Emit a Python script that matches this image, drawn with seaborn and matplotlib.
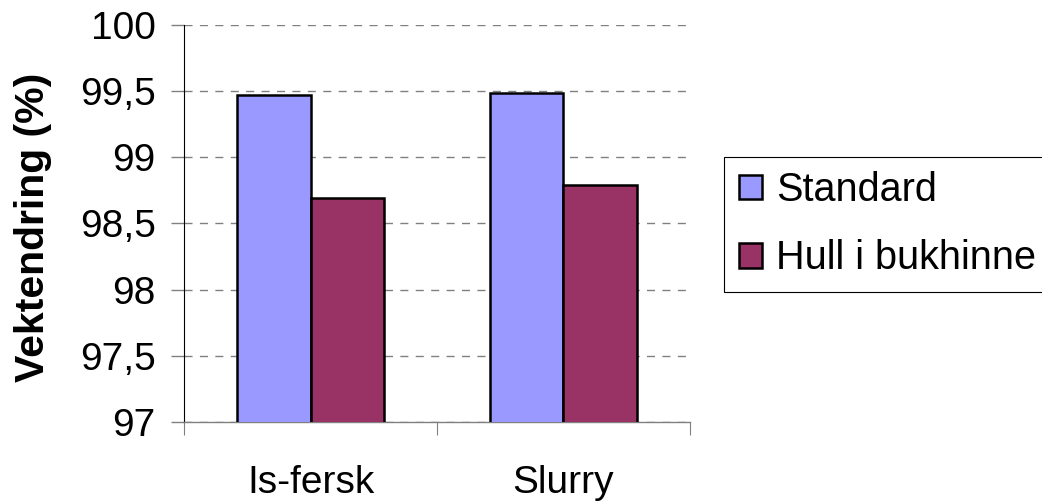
import matplotlib
matplotlib.use("Agg")
import matplotlib.pyplot as plt
import seaborn as sns
import pandas as pd
from matplotlib.patches import Patch

# Data
categories = ["Is-fersk", "Slurry"]
series_names = ["Standard", "Hull i bukhinne"]
standard = [99.47, 99.49]
hull = [98.69, 98.79]
y_ticks = [97, 97.5, 98, 98.5, 99, 99.5, 100]
y_tick_labels = ["97", "97,5", "98", "98,5", "99", "99,5", "100"]
palette = ["#9999FF", "#993366"]

df = pd.DataFrame({
    "kategori": categories * 2,
    "serie": [series_names[0]] * len(categories) + [series_names[1]] * len(categories),
    "verdi": standard + hull,
})

sns.set_theme(style="white")
plt.rcParams["font.family"] = ["Liberation Sans", "DejaVu Sans"]
plt.rcParams["lines.scale_dashes"] = False
plt.rcParams["text.color"] = "black"

fig = plt.figure(figsize=(10.42, 5.01), dpi=100)
ax = fig.add_axes([184.3 / 1042, 1 - 421.7 / 501, (689.8 - 184.3) / 1042, (421.7 - 25.3) / 501])

sns.barplot(data=df, x="kategori", y="verdi", hue="serie", order=categories,
            hue_order=series_names, palette=palette, width=0.58, saturation=1,
            edgecolor="black", linewidth=1.8, errorbar=None, legend=False,
            ax=ax, zorder=3)

# Axes
ax.set_xlim(-0.5, 1.5)
ax.set_ylim(97, 100)
ax.set_yticks(y_ticks)
ax.set_yticklabels(y_tick_labels)
ax.yaxis.grid(True, color="#808080", linestyle=(0, (5.8, 5.3)), linewidth=1.0)
ax.xaxis.grid(False)
ax.set_axisbelow(True)

for s in ("top", "right"):
    ax.spines[s].set_visible(False)
ax.spines["left"].set_color("black")
ax.spines["left"].set_linewidth(0.8)
ax.spines["bottom"].set_color("#808080")
ax.spines["bottom"].set_linewidth(1.0)

ax.tick_params(axis="y", which="major", length=9.1, width=1.0, color="#808080",
               pad=11.5, labelsize=28, labelcolor="black", left=True)
ax.tick_params(axis="x", which="major", length=0, pad=31, labelsize=28,
               labelcolor="black")
ax.set_xticks([-0.5, 0.5, 1.5], minor=True)
ax.tick_params(axis="x", which="minor", length=9, width=0.8, color="#808080",
               bottom=True)

ax.set_xlabel("")
ax.set_ylabel("Vektendring (%)", fontsize=29.5, fontweight="bold", color="black")
ax.yaxis.set_label_coords(-0.2617, 0.491)

# Legend
handles = [Patch(facecolor=c, edgecolor="black", linewidth=1.8) for c in palette]
leg = fig.legend(handles, series_names, loc="upper left",
                 bbox_to_anchor=(724.3 / 1042, 1 - 156.7 / 501),
                 fontsize=28.5, frameon=True, fancybox=False, edgecolor="black",
                 handlelength=0.58, handleheight=0.58, handletextpad=0.36,
                 labelspacing=0.77, borderpad=0.36, borderaxespad=0,
                 labelcolor="black")
leg.get_frame().set_linewidth(0.8)
leg.get_frame().set_alpha(1)

fig.savefig("out.png", dpi=100)
